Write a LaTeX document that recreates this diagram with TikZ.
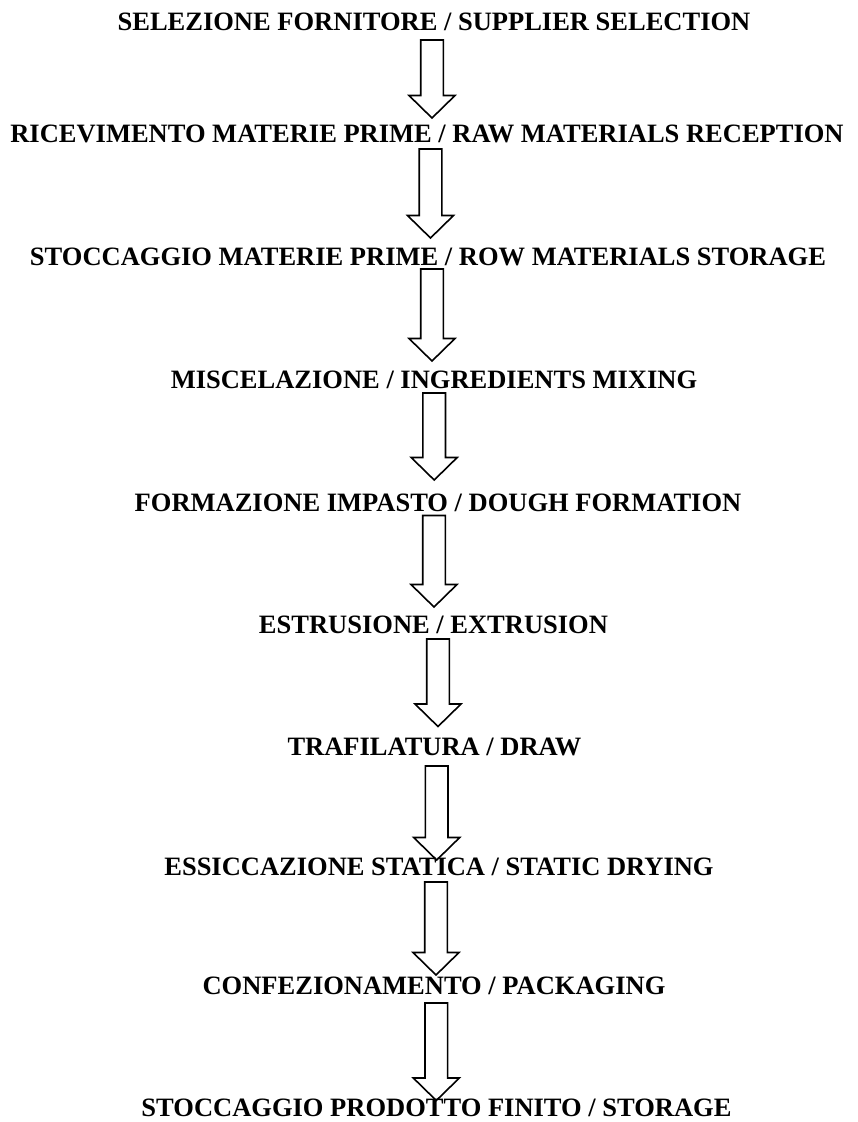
\documentclass[tikz,border=0pt]{standalone}
\usepackage{fontspec}
\setmainfont{Liberation Serif}
\usetikzlibrary{calc}

\newcommand{\flowarrow}[2]{%
  \draw[flow arrow] let \p1=(#1), \p2=(#2) in
    ({\x1-11.3pt},{\y1}) -- ({\x1+11.3pt},{\y1}) -- ({\x1+11.3pt},{\y2+22.5pt})
    -- ({\x1+23pt},{\y2+22.5pt}) -- ({\x1},{\y2}) -- ({\x1-23pt},{\y2+22.5pt})
    -- ({\x1-11.3pt},{\y2+22.5pt}) -- cycle;}

\begin{document}
\begin{tikzpicture}[x=1pt,y=-1pt,
    steplabel/.style={anchor=base,inner sep=0pt,font=\bfseries\fontsize{26.5}{30}\selectfont},
    flow arrow/.style={draw,line width=1.6pt,line join=miter,fill=white}]
  \useasboundingbox (0,0) rectangle (858,1122);
  % arrows first, labels over them
  \coordinate (a1s) at (432,40);    \coordinate (a1e) at (432,118);
  \coordinate (a2s) at (430.5,149); \coordinate (a2e) at (430.5,238);
  \coordinate (a3s) at (432,269);   \coordinate (a3e) at (432,361);
  \coordinate (a4s) at (434.2,393); \coordinate (a4e) at (434.2,480);
  \coordinate (a5s) at (434,515.5); \coordinate (a5e) at (434,607);
  \coordinate (a6s) at (438,639);   \coordinate (a6e) at (438,726.5);
  \coordinate (a7s) at (436.7,766); \coordinate (a7e) at (436.7,860);
  \coordinate (a8s) at (436,882);   \coordinate (a8e) at (436,975);
  \coordinate (a9s) at (436.3,1003); \coordinate (a9e) at (436.3,1100.5);
  \flowarrow{a1s}{a1e}
  \flowarrow{a2s}{a2e}
  \flowarrow{a3s}{a3e}
  \flowarrow{a4s}{a4e}
  \flowarrow{a5s}{a5e}
  \flowarrow{a6s}{a6e}
  \flowarrow{a7s}{a7e}
  \flowarrow{a8s}{a8e}
  \flowarrow{a9s}{a9e}
  \node[steplabel] (supplier) at (434,30) {SELEZIONE FORNITORE / SUPPLIER SELECTION};
  \node[steplabel] (reception) at (427,142) {RICEVIMENTO MATERIE PRIME / RAW MATERIALS RECEPTION};
  \node[steplabel] (rawstore) at (428,265) {STOCCAGGIO MATERIE PRIME / ROW MATERIALS STORAGE};
  \node[steplabel] (mixing) at (434,388) {MISCELAZIONE / INGREDIENTS MIXING};
  \node[steplabel] (dough) at (438,511) {FORMAZIONE IMPASTO / DOUGH FORMATION};
  \node[steplabel] (extrusion) at (433.5,633) {ESTRUSIONE / EXTRUSION};
  \node[steplabel] (draw) at (434.5,755) {TRAFILATURA / DRAW};
  \node[steplabel] (drying) at (439,875) {ESSICCAZIONE STATICA / STATIC DRYING};
  \node[steplabel] (packaging) at (434,994) {CONFEZIONAMENTO / PACKAGING};
  \node[steplabel] (storage) at (436.5,1116) {STOCCAGGIO PRODOTTO FINITO / STORAGE};
\end{tikzpicture}
\end{document}
